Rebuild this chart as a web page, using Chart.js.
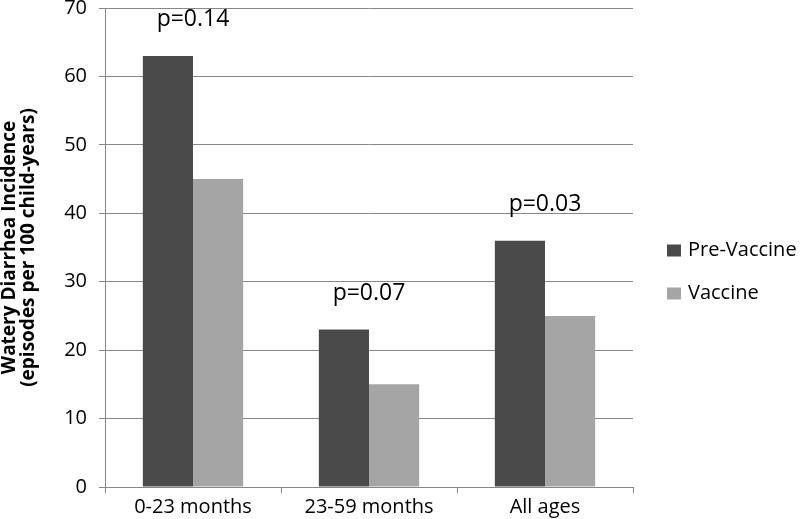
<!DOCTYPE html>
<html><head><meta charset="utf-8">
<script src="https://cdn.jsdelivr.net/npm/chart.js@4"></script>
<style>html,body{margin:0;padding:0;background:#fff}#wrap{width:800px;height:519px}</style>
</head><body><div id="wrap"><canvas id="c" width="800" height="519"></canvas></div>
<script>
const categories = ['0-23 months', '23-59 months', 'All ages'];
const seriesNames = ['Pre-Vaccine', 'Vaccine'];
const preVaccine = [63, 23, 36];
const vaccine = [45, 15, 25];
const pLabels = ['p=0.14', 'p=0.07', 'p=0.03'];
const yTitle = ['Watery Diarrhea Incidence', '(episodes per 100 child-years)'];
const yMin = 0, yMax = 70, yStep = 10;

const FONT = "'Open Sans', 'Liberation Sans', sans-serif";
const GRID = '#878787';
const COLORS = ['#4a4a4a', '#a5a5a5'];

const pLabelPlugin = {
  id: 'pLabels',
  afterDatasetsDraw(chart) {
    const ctx = chart.ctx, xs = chart.scales.x, ys = chart.scales.y;
    ctx.save();
    ctx.font = "23px " + FONT;
    ctx.fillStyle = '#000';
    ctx.textAlign = 'center';
    ctx.textBaseline = 'middle';
    pLabels.forEach((t, i) => {
      const top = Math.max(preVaccine[i], vaccine[i]);
      ctx.fillText(t, xs.getPixelForValue(i), ys.getPixelForValue(top) - 36);
    });
    ctx.restore();
  }
};

const legendPlugin = {
  id: 'sideLegend',
  afterDraw(chart) {
    const ctx = chart.ctx, a = chart.chartArea;
    const x0 = a.right + 34;
    const yc = (a.top + a.bottom) / 2 + 3;
    ctx.save();
    ctx.font = "20px " + FONT;
    ctx.textBaseline = 'middle';
    ctx.textAlign = 'left';
    chart.data.datasets.forEach((ds, i) => {
      const y = yc + i * 43;
      ctx.fillStyle = ds.backgroundColor;
      ctx.fillRect(x0, y - 6, 14, 12);
      ctx.fillStyle = '#000';
      ctx.fillText(ds.label, x0 + 21, y);
    });
    ctx.restore();
  }
};

new Chart(document.getElementById('c'), {
  type: 'bar',
  data: {
    labels: categories,
    datasets: [
      { label: seriesNames[0], data: preVaccine, backgroundColor: COLORS[0] },
      { label: seriesNames[1], data: vaccine, backgroundColor: COLORS[1] }
    ]
  },
  options: {
    responsive: false,
    devicePixelRatio: 1,
    animation: false,
    categoryPercentage: 0.57,
    barPercentage: 1.0,
    layout: { padding: { top: 0, right: 167, left: 0, bottom: 0 } },
    plugins: { legend: { display: false }, tooltip: { enabled: false } },
    scales: {
      x: {
        grid: { display: true, drawOnChartArea: false, tickLength: 6, color: GRID },
        border: { color: GRID },
        ticks: { color: '#000', font: { family: FONT, size: 20 }, padding: 2 },
        afterFit(s) { s.height = 32; }
      },
      y: {
        min: yMin, max: yMax,
        ticks: { stepSize: yStep, color: '#000', font: { family: FONT, size: 20, lineHeight: 0.7 }, padding: 12 },
        grid: { color: GRID, tickLength: 6 },
        border: { color: GRID },
        title: {
          display: true, text: yTitle, color: '#000',
          font: { family: FONT, size: 19, weight: 'bold', lineHeight: 1.0 },
          padding: { top: 0, bottom: 0 }
        },
        afterFit(s) { s.width = 105; s.paddingTop = 8; }
      }
    }
  },
  plugins: [pLabelPlugin, legendPlugin]
});
</script></body></html>
